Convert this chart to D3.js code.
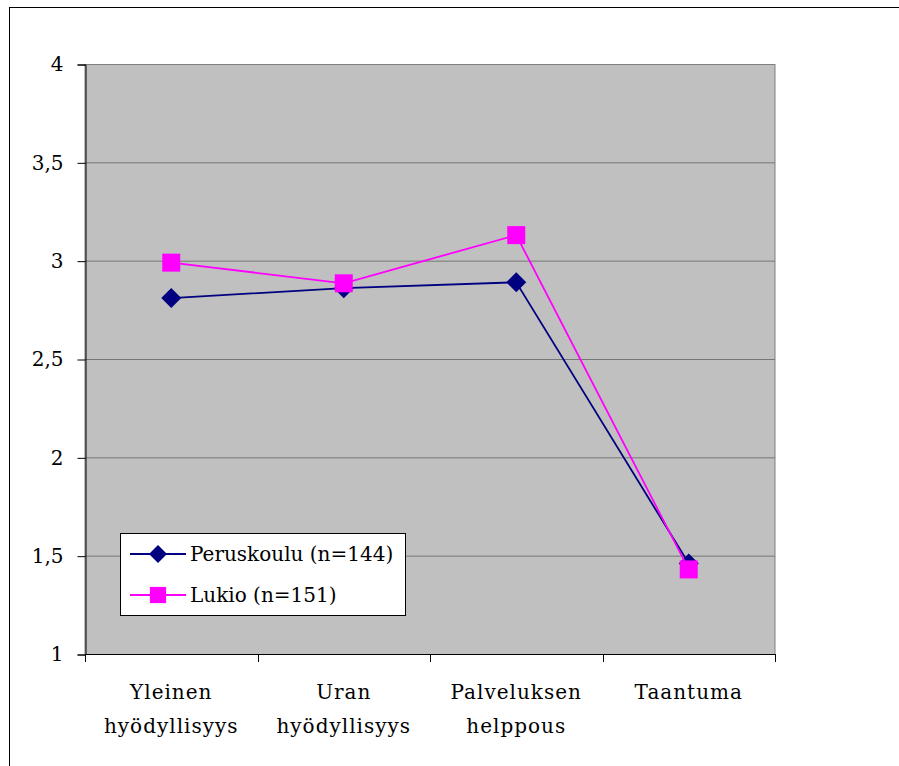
<!DOCTYPE html>
<html>
<head>
<meta charset="utf-8">
<script src="https://cdn.jsdelivr.net/npm/d3@7"></script>
<style>
body { margin: 0; background: #fff; }
text { font-family: "DejaVu Serif", serif; fill: #000; }
</style>
</head>
<body>
<svg id="chart" width="899" height="766"></svg>
<script>
var categories = [["Yleinen", "hyödyllisyys"], ["Uran", "hyödyllisyys"], ["Palveluksen", "helppous"], ["Taantuma"]];
var peruskoulu = [2.81, 2.86, 2.89, 1.46];
var lukio = [2.99, 2.885, 3.13, 1.43];
var yTicks = [1, 1.5, 2, 2.5, 3, 3.5, 4];
var seriesNames = ["Peruskoulu (n=144)", "Lukio (n=151)"];

var svg = d3.select("#chart");
var pLeft = 85, pRight = 775, pTop = 64, pBottom = 654;

// outer frame (only top and left visible in the shot)
svg.append("rect").attr("x", 9.5).attr("y", 7.5).attr("width", 1000).attr("height", 1000)
	.attr("fill", "none").attr("stroke", "#000").attr("stroke-width", 1);

var x = d3.scaleBand().domain(d3.range(categories.length)).range([pLeft, pRight]);
var y = d3.scaleLinear().domain([1, 4]).range([pBottom, pTop]);

svg.append("rect").attr("x", pLeft).attr("y", pTop + 0.5).attr("width", pRight - pLeft).attr("height", pBottom - pTop)
	.attr("fill", "#c0c0c0").attr("stroke", "#808080");

svg.selectAll(".grid").data(yTicks.slice(1, -1)).enter().append("line")
	.attr("x1", pLeft).attr("x2", pRight)
	.attr("y1", function(d) { return y(d) + 0.5; }).attr("y2", function(d) { return y(d) + 0.5; })
	.attr("stroke", "#777").attr("stroke-width", 1);

// y axis
var yAxis = d3.axisLeft(y).tickValues(yTicks).tickSize(8).tickPadding(14)
	.tickFormat(function(d) { return String(d).replace(".", ","); });
var ga = svg.append("g").attr("transform", "translate(" + (pLeft + 0.5) + ",0.5)").call(yAxis);
ga.select(".domain").attr("stroke", "#000");
ga.selectAll("line").attr("stroke", "#000");
ga.selectAll("text").style("font-size", "20px").attr("font-family", null);

// x axis line and ticks at category boundaries
svg.append("line").attr("x1", pLeft).attr("x2", pRight).attr("y1", pBottom + 0.5).attr("y2", pBottom + 0.5)
	.attr("stroke", "#000");
var bounds = d3.range(categories.length + 1).map(function(i) { return pLeft + i * x.bandwidth(); });
svg.selectAll(".xt").data(bounds).enter().append("line")
	.attr("x1", function(d) { return Math.round(d) + 0.5; }).attr("x2", function(d) { return Math.round(d) + 0.5; })
	.attr("y1", pBottom).attr("y2", pBottom + 8).attr("stroke", "#000");

var labels = svg.selectAll(".xl").data(categories).enter().append("text")
	.attr("text-anchor", "middle").style("font-size", "20px").style("letter-spacing", "1px")
	.attr("transform", function(d, i) { return "translate(" + (x(i) + x.bandwidth() / 2) + ",699)"; });
labels.selectAll("tspan").data(function(d) { return d; }).enter().append("tspan")
	.attr("x", 0).attr("y", function(d, i) { return i * 34; }).text(function(d) { return d; });

var line = d3.line().x(function(d, i) { return x(i) + x.bandwidth() / 2; }).y(function(d) { return y(d); });

function drawSeries(data, color, shape) {
	svg.append("path").datum(data).attr("d", line).attr("fill", "none").attr("stroke", color).attr("stroke-width", 1.8);
	svg.selectAll(null).data(data).enter().append("path")
		.attr("d", shape)
		.attr("transform", function(d, i) { return "translate(" + (x(i) + x.bandwidth() / 2) + "," + y(d) + ")"; })
		.attr("fill", color);
}
var diamond = "M0,-10L10,0L0,10L-10,0Z";
var square = "M-9,-9H9V9H-9Z";
drawSeries(peruskoulu, "#000080", diamond);
drawSeries(lukio, "#ff00ff", square);

// legend
var lg = svg.append("g").attr("transform", "translate(120,533)");
lg.append("rect").attr("x", 0.5).attr("y", 0.5).attr("width", 285).attr("height", 82)
	.attr("fill", "#fff").attr("stroke", "#000");
var items = [{c: "#000080", s: diamond}, {c: "#ff00ff", s: square}];
items.forEach(function(it, i) {
	var cy = 21 + i * 41;
	lg.append("line").attr("x1", 10).attr("x2", 66).attr("y1", cy).attr("y2", cy).attr("stroke", it.c).attr("stroke-width", 1.8);
	lg.append("path").attr("d", it.s).attr("transform", "translate(38," + cy + ") scale(0.9)").attr("fill", it.c);
	lg.append("text").attr("x", 70).attr("y", cy + 7).style("font-size", "20px").text(seriesNames[i]);
});
</script>
</body>
</html>
